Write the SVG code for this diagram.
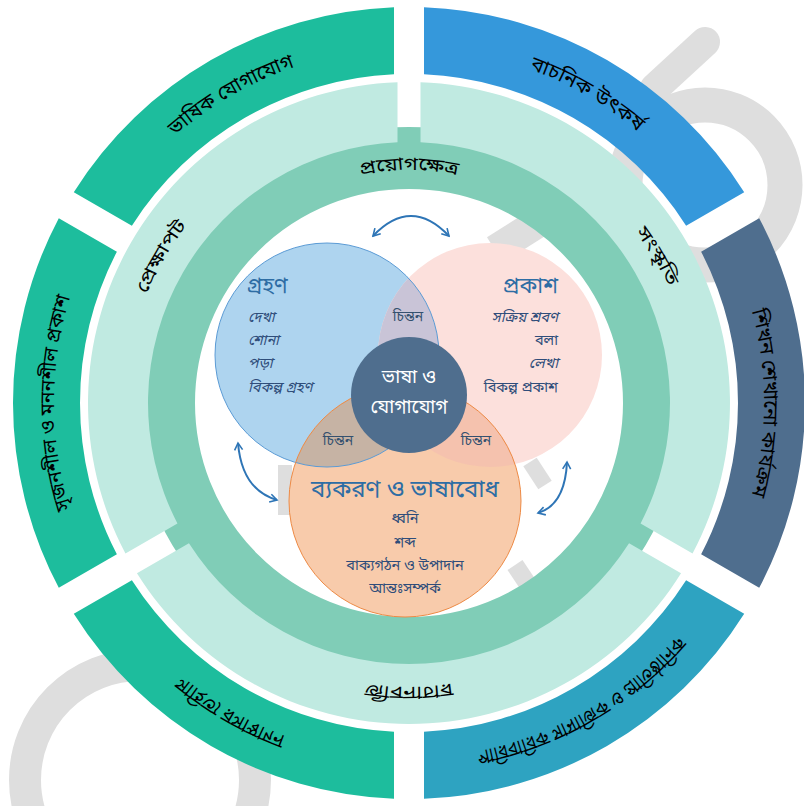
<svg xmlns="http://www.w3.org/2000/svg" width="804" height="806" viewBox="0 0 804 806">
<style>
.bn{font-family:"Noto Sans Bengali","Noto Serif Bengali","Lohit Bengali","FreeSans","Noto Sans",sans-serif}
.ring{font-size:20px;fill:#000}
.mid{font-size:18px;fill:#000}
.head{font-size:22px;fill:#2E6DA4}
.item{font-size:14.5px;fill:#2F4D7A}
.it{font-style:italic}
.cint{font-size:14px;fill:#34506E}
.wm{fill:none;stroke:#DEDEDE}
.arr{fill:none;stroke:#2E75B6;stroke-width:2;marker-start:url(#ah);marker-end:url(#ah)}
</style>
<defs>
<marker id="ah" viewBox="0 0 10 10" refX="8" refY="5" markerWidth="5" markerHeight="5" orient="auto-start-reverse" markerUnits="strokeWidth">
<path d="M1,1 L8,5 L1,9" fill="none" stroke="#2E75B6" stroke-width="1.6"/>
</marker>
<path id="pTL" d="M101.6,225.5 A355,355 0 0 1 409,48"/>
<path id="pTR" d="M409,48 A355,355 0 0 1 716.4,225.5"/>
<path id="pL" d="M101.6,580.5 A355,355 0 0 1 101.6,225.5"/>
<path id="pR" d="M716.4,225.5 A355,355 0 0 1 716.4,580.5"/>
<path id="pMid" d="M176,403 A233,233 0 0 1 642,403"/>
<path id="pLL" d="M125,403 A284,284 0 0 1 409,119"/>
<path id="pLR" d="M409,119 A284,284 0 0 1 693,403"/>
<path id="pLT" d="M125,403 A284,284 0 0 1 693,403"/>
<clipPath id="cBlue"><circle cx="327" cy="355" r="112"/></clipPath>
<clipPath id="cPink"><circle cx="490" cy="355" r="112"/></clipPath>
</defs>

<g id="watermark">
<circle class="wm" cx="705" cy="185" r="80" stroke-width="35"/>
<path class="wm" d="M705,42 L655,88" stroke-width="30" stroke-linecap="round"/>
<circle class="wm" cx="140" cy="780" r="115" stroke-width="32"/>
<path class="wm" d="M495,250 L555,212" stroke-width="30"/>
<path class="wm" d="M530,462 L545,485" stroke-width="16"/>
<path class="wm" d="M285,465 L285,515" stroke-width="14"/>
<path class="wm" d="M515,565 L535,595" stroke-width="18"/>
<path class="wm" d="M395,622 L440,622" stroke-width="10"/>
</g>

<g id="outer-ring">
<g id="seg-tl"><path d="M394,7.28 A396,396 0 0 0 73.8,192.15 L131.88,225.68 A329,329 0 0 1 394,74.34 Z" fill="#1DBD9D"/>
<text class="bn ring"><textPath href="#pTL" startOffset="50%" text-anchor="middle" textLength="139" lengthAdjust="spacingAndGlyphs">ভাষিক যোগাযোগ</textPath></text></g>
<g id="seg-l"><path d="M58.8,218.13 A396,396 0 0 0 58.8,587.87 L116.88,554.34 A329,329 0 0 1 116.88,251.66 Z" fill="#1DBD9D"/>
<text class="bn ring"><textPath href="#pL" startOffset="50%" text-anchor="middle" textLength="215" lengthAdjust="spacingAndGlyphs">সৃজনশীল ও মননশীল প্রকাশ</textPath></text></g>
<g id="seg-bl"><path d="M73.8,613.85 A396,396 0 0 0 394,798.72 L394,731.66 A329,329 0 0 1 131.88,580.32 Z" fill="#1DBD9D"/>
<g transform="matrix(1 0 0 -1 0 806)"><text class="bn ring"><textPath href="#pTL" startOffset="50%" text-anchor="middle" textLength="120" lengthAdjust="spacingAndGlyphs">সাহিত্য রসাস্বাদন</textPath></text></g></g>
<g id="seg-br"><path d="M424,798.72 A396,396 0 0 0 744.2,613.85 L686.12,580.32 A329,329 0 0 1 424,731.66 Z" fill="#2EA3C1"/>
<g transform="matrix(1 0 0 -1 0 806)"><text class="bn ring"><textPath href="#pTR" startOffset="50%" text-anchor="middle" textLength="236" lengthAdjust="spacingAndGlyphs">পারিবারিক সামাজিক ও প্রাতিষ্ঠানিক</textPath></text></g></g>
<g id="seg-r"><path d="M759.2,587.87 A396,396 0 0 0 759.2,218.13 L701.12,251.66 A329,329 0 0 1 701.12,554.34 Z" fill="#4F6E8E"/>
<text class="bn ring"><textPath href="#pR" startOffset="50%" text-anchor="middle" textLength="187" lengthAdjust="spacingAndGlyphs">শিখন শেখানো কার্যক্রম</textPath></text></g>
<g id="seg-tr"><path d="M744.2,192.15 A396,396 0 0 0 424,7.28 L424,74.34 A329,329 0 0 1 686.12,225.68 Z" fill="#3598DB"/>
<text class="bn ring"><textPath href="#pTR" startOffset="50%" text-anchor="middle" textLength="126" lengthAdjust="spacingAndGlyphs">বাচনিক উৎকর্ষ</textPath></text></g>
</g>

<g id="middle-ring">
<circle cx="409" cy="403" r="245" fill="none" stroke="#80CDB7" stroke-width="62"/>
<g id="light-left"><path d="M397.5,82.21 A321,321 0 0 0 125.45,553.44 L177.44,523.42 A261,261 0 0 1 397.5,142.25 Z" fill="#C0EAE1"/>
<text class="bn mid"><textPath href="#pLL" startOffset="34%" text-anchor="middle" textLength="80" lengthAdjust="spacingAndGlyphs">প্রেক্ষাপট</textPath></text></g>
<g id="light-right"><path d="M692.55,553.44 A321,321 0 0 0 420.5,82.21 L420.5,142.25 A261,261 0 0 1 640.56,523.42 Z" fill="#C0EAE1"/>
<text class="bn mid"><textPath href="#pLR" startOffset="66%" text-anchor="middle" textLength="64" lengthAdjust="spacingAndGlyphs">সংস্কৃতি</textPath></text></g>
<g id="light-bottom"><path d="M136.95,573.36 A321,321 0 0 0 681.05,573.36 L629.06,543.34 A261,261 0 0 1 188.94,543.34 Z" fill="#C0EAE1"/>
<g transform="matrix(1 0 0 -1 0 806)"><text class="bn mid"><textPath href="#pLT" startOffset="50%" text-anchor="middle" textLength="87" lengthAdjust="spacingAndGlyphs">জীবনাচার</textPath></text></g></g>
<text class="bn mid"><textPath href="#pMid" startOffset="50%" text-anchor="middle" textLength="98" lengthAdjust="spacingAndGlyphs">প্রয়োগক্ষেত্র</textPath></text>
</g>

<g id="venn">
<g id="grohon"><circle cx="327" cy="355" r="112" fill="#AED4EF"/></g>
<g id="prokash"><circle cx="490" cy="355" r="112" fill="#FCE0DC"/></g>
<g id="byakoron"><circle cx="405" cy="501" r="116" fill="#F8CBAB"/></g>
<circle cx="490" cy="355" r="112" fill="#C9C4D7" clip-path="url(#cBlue)"/>
<circle cx="405" cy="501" r="116" fill="#C6B3A4" clip-path="url(#cBlue)"/>
<circle cx="405" cy="501" r="116" fill="#F5C2AE" clip-path="url(#cPink)"/>
<circle cx="327" cy="355" r="112" fill="none" stroke="#5B9BD5" stroke-width="1"/>
<circle cx="405" cy="501" r="116" fill="none" stroke="#ED8A45" stroke-width="1"/>
<g id="center"><circle cx="409" cy="395" r="58" fill="#4F6E8E"/>
<text class="bn" x="409" y="383" font-size="19" fill="#FFFFFF" text-anchor="middle">ভাষা ও</text>
<text class="bn" x="409" y="413" font-size="19" fill="#FFFFFF" text-anchor="middle">যোগাযোগ</text></g>

<text class="bn head" x="247" y="293">গ্রহণ</text>
<text class="bn item it" x="248" y="322">দেখা</text>
<text class="bn item it" x="248" y="345">শোনা</text>
<text class="bn item it" x="248" y="368">পড়া</text>
<text class="bn item it" x="248" y="392">বিকল্প গ্রহণ</text>

<text class="bn head" x="558" y="293" text-anchor="end">প্রকাশ</text>
<text class="bn item it" x="558" y="322" text-anchor="end">সক্রিয় শ্রবণ</text>
<text class="bn item" x="558" y="345" text-anchor="end">বলা</text>
<text class="bn item it" x="558" y="368" text-anchor="end">লেখা</text>
<text class="bn item" x="558" y="392" text-anchor="end">বিকল্প প্রকাশ</text>

<text class="bn cint" x="408" y="321" text-anchor="middle">চিন্তন</text>
<text class="bn cint" x="338" y="445" text-anchor="middle">চিন্তন</text>
<text class="bn cint" x="476" y="445" text-anchor="middle">চিন্তন</text>

<text class="bn" x="405" y="497" font-size="24" fill="#2E6DA4" text-anchor="middle">ব্যকরণ ও ভাষাবোধ</text>
<text class="bn item" x="405" y="523" text-anchor="middle">ধ্বনি</text>
<text class="bn item" x="405" y="547" text-anchor="middle">শব্দ</text>
<text class="bn item" x="405" y="570" text-anchor="middle">বাক্যগঠন ও উপাদান</text>
<text class="bn item" x="405" y="593" text-anchor="middle">আন্তঃসম্পর্ক</text>
</g>

<g id="connectors">
<path class="arr" d="M373,236 Q411,196 449,236"/>
<path class="arr" d="M238,443 Q242,490 277,500"/>
<path class="arr" d="M567,462 Q565,505 538,513"/>
</g>
</svg>
